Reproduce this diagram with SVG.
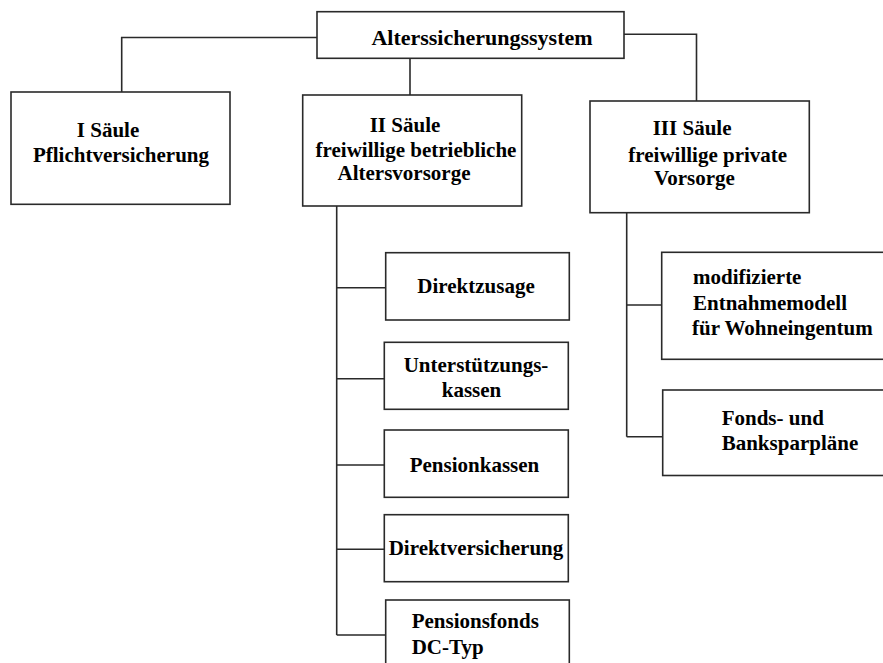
<svg xmlns="http://www.w3.org/2000/svg" width="883" height="663" viewBox="0 0 883 663">
<style>
.box{fill:#fff;stroke:#2a2a2a;stroke-width:1.6}
.ln{fill:none;stroke:#2a2a2a;stroke-width:1.6}
text{font-family:'Liberation Serif','DejaVu Serif',serif;font-weight:bold;font-size:21px;fill:#000}
.c{text-anchor:middle}
</style>
<rect width="883" height="663" fill="#fff"/>
<g id="connectors">
<path class="ln" d="M317,37.5 H121.7 V92"/>
<path class="ln" d="M410,58.3 V95"/>
<path class="ln" d="M624,34.3 H696.5 V101"/>
<path class="ln" d="M336.7,206 V635 M336.7,287.7 H385.7 M336.7,378.7 H384.3 M336.7,465 H384.3 M336.7,549.3 H384.3 M336.7,635 H385.7"/>
<path class="ln" d="M626.7,212.7 V436.7 M626.7,305 H661.7 M626.7,436.7 H662.7"/>
</g>
<g id="root">
<rect class="box" x="317" y="11.7" width="307" height="46.6"/>
<text x="482" y="44.5" class="c" style="font-size:22px">Alterssicherungssystem</text>
</g>
<g id="saeule1">
<rect class="box" x="11" y="92" width="219" height="112.3"/>
<text x="108" y="136.7" class="c">I Säule</text>
<text x="121" y="161.7" class="c">Pflichtversicherung</text>
</g>
<g id="saeule2">
<rect class="box" x="302.7" y="95" width="219" height="111"/>
<text x="405" y="131.7" class="c">II Säule</text>
<text x="416" y="157" class="c">freiwillige betriebliche</text>
<text x="404" y="180" class="c">Altersvorsorge</text>
</g>
<g id="saeule3">
<rect class="box" x="590" y="101" width="219.3" height="111.7"/>
<text x="652.7" y="135">III Säule</text>
<text x="628.3" y="161.7">freiwillige private</text>
<text x="654" y="185">Vorsorge</text>
</g>
<g id="direktzusage">
<rect class="box" x="385.7" y="252.7" width="183.6" height="67.3"/>
<text x="476" y="293" class="c">Direktzusage</text>
</g>
<g id="unterstuetzungskassen">
<rect class="box" x="384.3" y="342.3" width="184" height="67"/>
<text x="476" y="371.7" class="c">Unterstützungs-</text>
<text x="471.5" y="396.7" class="c">kassen</text>
</g>
<g id="pensionkassen">
<rect class="box" x="384.3" y="430" width="184" height="67.3"/>
<text x="474.5" y="471.7" class="c">Pensionkassen</text>
</g>
<g id="direktversicherung">
<rect class="box" x="384.3" y="514.7" width="184" height="67"/>
<text x="476" y="555" class="c">Direktversicherung</text>
</g>
<g id="pensionsfonds">
<rect class="box" x="385.7" y="600" width="183.6" height="80"/>
<text x="411.7" y="628.3">Pensionsfonds</text>
<text x="411.7" y="654">DC-Typ</text>
</g>
<g id="entnahmemodell">
<rect class="box" x="661.7" y="252.3" width="240" height="107"/>
<text x="693" y="284.3">modifizierte</text>
<text x="693" y="310">Entnahmemodell</text>
<text x="692" y="335">für Wohneingentum</text>
</g>
<g id="fondsbanksparplaene">
<rect class="box" x="662.7" y="390" width="240" height="85.5"/>
<text x="721.7" y="425">Fonds- und</text>
<text x="721.7" y="450">Banksparpläne</text>
</g>
</svg>
